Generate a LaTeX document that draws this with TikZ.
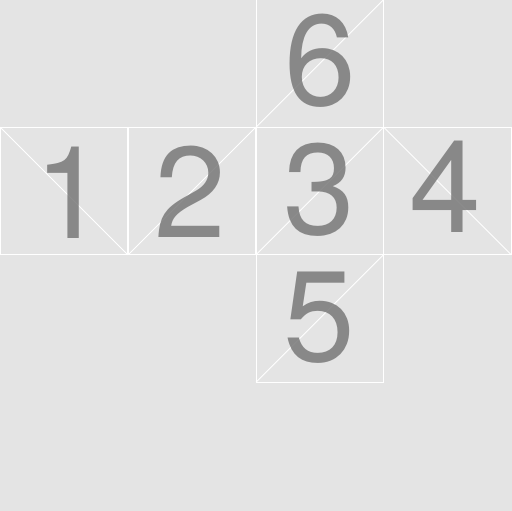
\documentclass[tikz,border=0pt]{standalone}
\usepackage{fontspec}
\setmainfont{TeX Gyre Heros}
\definecolor{bg}{HTML}{E4E4E4}
\definecolor{dg}{HTML}{717171}
\begin{document}
\begin{tikzpicture}[x=1pt,y=-1pt,
  sq/.style={draw=white,line width=0.9pt,minimum width=127.5pt,minimum height=127.5pt,inner sep=0pt,outer sep=0pt},
  dig/.style={text=dg,text opacity=0.8,font=\fontsize{129}{129}\selectfont,inner sep=0pt,anchor=base},
  diag/.style={draw=white,line width=0.9pt}]
\fill[bg] (0,0) rectangle (512,511);
\useasboundingbox (0,0) rectangle (512,511);
% squares of the net
\node[sq] (s6) at (319.75,63.5) {};
\node[sq] (s1) at (64,191) {};
\node[sq] (s2) at (192,191) {};
\node[sq] (s3) at (319.75,191) {};
\node[sq] (s4) at (447.5,191) {};
\node[sq] (s5) at (319.75,318.5) {};
% diagonals
\draw[diag] (s6.south west) -- (s6.north east);
\draw[diag] (s1.north west) -- (s1.south east);
\draw[diag] (s2.south west) -- (s2.north east);
\draw[diag] (s3.south west) -- (s3.north east);
\draw[diag] (s4.north west) -- (s4.south east);
\draw[diag] (s5.south west) -- (s5.north east);
% digits
\node[dig] (d6) at (320,106) {6};
\node[dig] (d1) at (70,238) {1};
\node[dig] (d2) at (190.5,237) {2};
\node[dig] (d3) at (319.5,234) {3};
\node[dig] (d4) at (445,232.3) {4};
\node[dig] (d5) at (319.5,361) {5};
\end{tikzpicture}
\end{document}
